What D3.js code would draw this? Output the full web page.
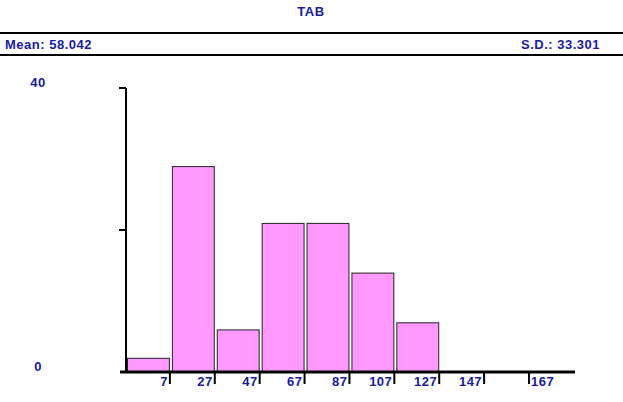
<!DOCTYPE html>
<html><head><meta charset="utf-8">
<script src="https://cdn.jsdelivr.net/npm/d3@7"></script>
<style>
html,body{margin:0;padding:0;background:#fff;}
text{font-family:"Liberation Sans",Arial,sans-serif;font-weight:bold;font-size:13px;letter-spacing:0.5px;fill:#1a1aa0;}
</style></head>
<body>
<svg id="c" width="623" height="402"></svg>
<script>
const title = "TAB";
const meanLabel = "Mean: 58.042";
const sdLabel = "S.D.: 33.301";
const binEdges = [-13, 7, 27, 47, 67, 87, 107, 127];
const counts = [2, 29, 6, 21, 21, 14, 7];
const xTicks = [7, 27, 47, 67, 87, 107, 127, 147, 167];
const yTicks = [0, 20, 40];
const yLabels = [0, 40];

const svg = d3.select("#c");
const x = d3.scaleLinear().domain([-13, 167]).range([125, 529]);
const y = d3.scaleLinear().domain([0, 40]).range([372, 88]);

svg.append("text").attr("x", 311).attr("y", 16).attr("text-anchor", "middle").text(title);
svg.append("line").attr("x1", 0).attr("x2", 623).attr("y1", 33).attr("y2", 33).attr("stroke", "#000").attr("stroke-width", 2);
svg.append("line").attr("x1", 0).attr("x2", 623).attr("y1", 55).attr("y2", 55).attr("stroke", "#000").attr("stroke-width", 2);
svg.append("text").attr("x", 5).attr("y", 49).text(meanLabel);
svg.append("text").attr("x", 600).attr("y", 49).attr("text-anchor", "end").text(sdLabel);

// bars
const bins = counts.map((c, i) => ({x0: binEdges[i], x1: binEdges[i + 1], c}));
svg.selectAll("rect.bar").data(bins).enter().append("rect")
  .attr("class", "bar")
  .attr("x", d => x(d.x0) + 2.5)
  .attr("width", d => x(d.x1) - x(d.x0) - 3)
  .attr("y", d => y(d.c) + 0.5)
  .attr("height", d => y(0) - y(d.c))
  .attr("fill", "#ff99ff").attr("stroke", "#222").attr("stroke-width", 1);

// y axis
svg.append("line").attr("x1", 126).attr("x2", 126).attr("y1", y(40)).attr("y2", y(0)).attr("stroke", "#000").attr("stroke-width", 2);
svg.selectAll("line.yt").data(yTicks.filter(d => d > 0)).enter().append("line")
  .attr("x1", 119).attr("x2", 126).attr("y1", d => y(d)).attr("y2", d => y(d))
  .attr("stroke", "#000").attr("stroke-width", 2);
svg.selectAll("text.yl").data(yLabels).enter().append("text")
  .attr("x", 38).attr("y", d => y(d) - 1).attr("text-anchor", "middle").text(d => d);

// x axis
svg.append("line").attr("x1", 120).attr("x2", 575).attr("y1", 372).attr("y2", 372).attr("stroke", "#000").attr("stroke-width", 3);
svg.selectAll("line.xt").data(xTicks).enter().append("line")
  .attr("x1", d => x(d)).attr("x2", d => x(d)).attr("y1", 372).attr("y2", 384)
  .attr("stroke", "#000").attr("stroke-width", 2);
svg.selectAll("text.xl").data(xTicks).enter().append("text")
  .attr("x", (d, i) => i === xTicks.length - 1 ? x(d) + 2 : x(d) - 2)
  .attr("y", 386)
  .attr("text-anchor", (d, i) => i === xTicks.length - 1 ? "start" : "end")
  .text(d => d);
</script>
</body></html>
